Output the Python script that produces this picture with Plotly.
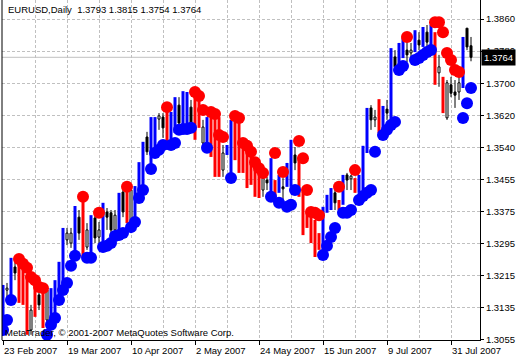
import plotly.graph_objects as go

# ---------------- data ----------------
x_tick_idx = [0, 16, 32, 48, 64, 80, 96, 112]
x_tick_text = ["23 Feb 2007", "19 Mar 2007", "10 Apr 2007", "2 May 2007",
               "24 May 2007", "15 Jun 2007", "9 Jul 2007", "31 Jul 2007"]
y_tick_vals = [1.3055, 1.31355, 1.3216, 1.32965, 1.3377, 1.34575,
               1.3538, 1.36185, 1.3699, 1.37795, 1.3860]
y_tick_text = ["1.3055", "1.3135", "1.3215", "1.3295", "1.3375", "1.3455",
               "1.3540", "1.3620", "1.3700", "1.3780", "1.3860"]

# candles visible between the indicator bars (bar index, O, H, L, C)
candle_idx = [1, 3, 7, 9, 11, 16, 17, 19, 21, 23, 24, 26, 27, 28, 30, 32, 36, 39, 40,
              44, 47, 50, 55, 65, 66, 70, 73, 83, 86, 87, 92, 93, 96, 98, 101, 102,
              104, 106, 109, 111, 112, 113, 114, 116, 117]
c_open = [1.3180, 1.3238, 1.3080, 1.3168, 1.3105, 1.3306, 1.3298, 1.3363, 1.3288, 1.3361,
          1.3313, 1.3376, 1.3374, 1.3331, 1.3426, 1.3351, 1.3564, 1.3609, 1.3614,
          1.3644, 1.3639, 1.3549, 1.3481, 1.3431, 1.3456, 1.3439, 1.3519, 1.3424, 1.3469,
          1.3459, 1.3637, 1.3607, 1.3634, 1.3765, 1.3782, 1.3775,
          1.3807, 1.3827, 1.3725, 1.3612, 1.3695, 1.3677, 1.3677, 1.3837, 1.3793]
c_high = [1.3198, 1.3251, 1.3143, 1.3185, 1.3193, 1.3336, 1.3336, 1.3381, 1.3348, 1.3381,
          1.3351, 1.3386, 1.3381, 1.3381, 1.3439, 1.3439, 1.3577, 1.3624, 1.3624,
          1.3664, 1.3657, 1.3607, 1.3544, 1.3476, 1.3464, 1.3461, 1.3539, 1.3436, 1.3474,
          1.3469, 1.3644, 1.3632, 1.3657, 1.3782, 1.3807, 1.3800,
          1.3827, 1.3845, 1.3770, 1.3707, 1.3715, 1.3707, 1.3720, 1.3837, 1.3815]
c_low = [1.3155, 1.3205, 1.3068, 1.3130, 1.3093, 1.3293, 1.3286, 1.3306, 1.3281, 1.3298,
         1.3293, 1.3331, 1.3313, 1.3318, 1.3363, 1.3338, 1.3519, 1.3582, 1.3562,
         1.3587, 1.3589, 1.3539, 1.3464, 1.3414, 1.3431, 1.3401, 1.3481, 1.3381, 1.3431,
         1.3431, 1.3582, 1.3589, 1.3607, 1.3732, 1.3752, 1.3757,
         1.3782, 1.3790, 1.3690, 1.3607, 1.3664, 1.3637, 1.3657, 1.3782, 1.3754]
c_close = [1.3185, 1.3223, 1.3130, 1.3143, 1.3180, 1.3323, 1.3323, 1.3323, 1.3331, 1.3311,
           1.3331, 1.3363, 1.3331, 1.3368, 1.3376, 1.3431, 1.3527, 1.3617, 1.3587,
           1.3599, 1.3599, 1.3589, 1.3524, 1.3461, 1.3449, 1.3434, 1.3499, 1.3399, 1.3456,
           1.3466, 1.3607, 1.3614, 1.3624, 1.3740, 1.3770, 1.3782,
           1.3795, 1.3802, 1.3740, 1.3700, 1.3674, 1.3669, 1.3700, 1.3790, 1.3764]

# indicator histogram bars
blue_bar_idx = [0, 2, 12, 13, 14, 15, 18, 22, 25, 29, 33, 34, 35, 37, 38, 42, 43, 45, 46,
                51, 56, 57, 67, 69, 71, 72, 80, 81, 82, 85, 89, 90, 91, 95, 97, 99, 100,
                103, 105, 107, 115]
blue_bar_top = [1.3193, 1.3261, 1.3185, 1.3205, 1.3251, 1.3336, 1.3391, 1.3368, 1.3399,
                1.3424, 1.3441, 1.3501, 1.3552, 1.3614, 1.3614, 1.3627, 1.3664, 1.3679,
                1.3677, 1.3614, 1.3544, 1.3607, 1.3511, 1.3469, 1.3499, 1.3557, 1.3389,
                1.3419, 1.3436, 1.3469, 1.3469, 1.3542, 1.3637, 1.3642, 1.3787, 1.3800,
                1.3812, 1.3832, 1.3840, 1.3845, 1.3815]
blue_bar_bot = [1.3068, 1.3155, 1.3100, 1.3113, 1.3155, 1.3180, 1.3268, 1.3263, 1.3293,
                1.3318, 1.3351, 1.3406, 1.3431, 1.3481, 1.3519, 1.3539, 1.3574, 1.3582,
                1.3587, 1.3544, 1.3519, 1.3469, 1.3424, 1.3424, 1.3439, 1.3439, 1.3273,
                1.3374, 1.3381, 1.3394, 1.3424, 1.3431, 1.3524, 1.3574, 1.3589, 1.3745,
                1.3762, 1.3777, 1.3790, 1.3782, 1.3687]

red_bar_idx = [4, 5, 6, 8, 10, 20, 31, 41, 48, 49, 52, 53, 54, 58, 59, 60, 61, 62, 63, 64,
               68, 74, 75, 76, 77, 78, 79, 84, 88, 94, 108, 110]
red_bar_top = [1.3261, 1.3236, 1.3218, 1.3193, 1.3180, 1.3406, 1.3439, 1.3639, 1.3677,
               1.3669, 1.3627, 1.3619, 1.3614, 1.3619, 1.3607, 1.3544, 1.3532, 1.3519,
               1.3499, 1.3481, 1.3456, 1.3514, 1.3426, 1.3374, 1.3363, 1.3356, 1.3323,
               1.3406, 1.3461, 1.3659, 1.3827, 1.3715]
red_bar_bot = [1.3148, 1.3143, 1.3068, 1.3113, 1.3085, 1.3263, 1.3348, 1.3552, 1.3557,
               1.3587, 1.3514, 1.3464, 1.3464, 1.3506, 1.3474, 1.3474, 1.3436, 1.3444,
               1.3414, 1.3411, 1.3414, 1.3414, 1.3318, 1.3336, 1.3298, 1.3263, 1.3281,
               1.3381, 1.3424, 1.3574, 1.3695, 1.3624]

# indicator dots
blue_dot_idx = [0, 1, 2, 11, 12, 13, 14, 15, 16, 17, 18, 21, 22, 25, 26, 27, 28, 29, 30,
                32, 33, 34, 35, 37, 38, 39, 40, 42, 43, 44, 45, 46, 47, 51, 57, 67, 69,
                71, 72, 73, 80, 81, 82, 83, 85, 86, 87, 89, 90, 91, 92, 93, 95, 96, 97,
                98, 99, 100, 103, 104, 105, 106, 107, 115, 116, 117]
blue_dot_val = [1.3080, 1.3105, 1.3155, 1.3068, 1.3093, 1.3110, 1.3155, 1.3180, 1.3198,
                1.3241, 1.3266, 1.3261, 1.3261, 1.3288, 1.3291, 1.3298, 1.3316, 1.3318,
                1.3323, 1.3338, 1.3351, 1.3411, 1.3431, 1.3484, 1.3524, 1.3532, 1.3544,
                1.3544, 1.3549, 1.3582, 1.3584, 1.3584, 1.3587, 1.3537, 1.3461, 1.3414,
                1.3399, 1.3389, 1.3394, 1.3431, 1.3268, 1.3291, 1.3313, 1.3336, 1.3374,
                1.3374, 1.3381, 1.3406, 1.3416, 1.3424, 1.3431, 1.3527, 1.3569, 1.3582,
                1.3594, 1.3602, 1.3732, 1.3742, 1.3757, 1.3762, 1.3770, 1.3777, 1.3782,
                1.3612, 1.3649, 1.3687]

red_dot_idx = [4, 5, 6, 7, 8, 9, 10, 20, 24, 31, 41, 48, 49, 50, 52, 53, 54, 55, 58, 59,
               60, 61, 62, 63, 64, 65, 68, 70, 74, 75, 76, 77, 78, 79, 84, 88, 101, 108,
               109, 110, 111, 112, 113, 114]
red_dot_val = [1.3258, 1.3246, 1.3236, 1.3213, 1.3205, 1.3188, 1.3185, 1.3414, 1.3374,
               1.3439, 1.3639, 1.3677, 1.3667, 1.3632, 1.3627, 1.3622, 1.3569, 1.3564,
               1.3617, 1.3612, 1.3549, 1.3542, 1.3527, 1.3501, 1.3486, 1.3474, 1.3524,
               1.3476, 1.3554, 1.3511, 1.3431, 1.3376, 1.3374, 1.3368, 1.3439, 1.3481,
               1.3815, 1.3852, 1.3852, 1.3827, 1.3775, 1.3757, 1.3732, 1.3727]

symbol = "EURUSD,Daily"
copyright_text = "MetaTrader, \u00a9 2001-2007 MetaQuotes Software Corp."

# ---------------- styles ----------------
BLUE = "#0000FF"
RED = "#FF0000"
GRID = "#C0C0C0"
FONT = "Liberation Sans"
DOT = 12

fig = go.Figure()

# candle wicks (split around the body so white bodies stay clean)
wx, wy = [], []
for i, o, h, l, c in zip(candle_idx, c_open, c_high, c_low, c_close):
    top, bot = max(o, c), min(o, c)
    wx += [i, i, None, i, i, None]
    wy += [h, top, None, bot, l, None]
fig.add_trace(go.Scatter(x=wx, y=wy, mode="lines", line=dict(color="black", width=1),
                         hoverinfo="skip"))

# candle bodies
up = [k for k in range(len(candle_idx)) if c_close[k] >= c_open[k]]
dn = [k for k in range(len(candle_idx)) if c_close[k] < c_open[k]]
fig.add_trace(go.Bar(x=[candle_idx[k] for k in up],
                     base=[c_open[k] for k in up],
                     y=[max(c_close[k] - c_open[k], 0.00005) for k in up],
                     width=0.5, marker=dict(color="white", line=dict(color="black", width=1))))
fig.add_trace(go.Bar(x=[candle_idx[k] for k in dn],
                     base=[c_close[k] for k in dn],
                     y=[c_open[k] - c_close[k] for k in dn],
                     width=0.5, marker=dict(color="black", line=dict(color="black", width=1))))

# indicator histogram
fig.add_trace(go.Bar(x=blue_bar_idx, base=blue_bar_bot,
                     y=[t - b for t, b in zip(blue_bar_top, blue_bar_bot)],
                     width=0.75, marker=dict(color=BLUE, line=dict(width=0))))
fig.add_trace(go.Bar(x=red_bar_idx, base=red_bar_bot,
                     y=[t - b for t, b in zip(red_bar_top, red_bar_bot)],
                     width=0.75, marker=dict(color=RED, line=dict(width=0))))

# indicator dots
fig.add_trace(go.Scatter(x=blue_dot_idx, y=blue_dot_val, mode="markers",
                         marker=dict(color=BLUE, size=DOT, line=dict(width=0))))
fig.add_trace(go.Scatter(x=red_dot_idx, y=red_dot_val, mode="markers",
                         marker=dict(color=RED, size=DOT, line=dict(width=0))))

last_o, last_h, last_l, last_c = c_open[-1], c_high[-1], c_low[-1], c_close[-1]

annotations = [
    dict(text=f"{symbol}  {last_o:.4f} {last_h:.4f} {last_l:.4f} {last_c:.4f}",
         x=0, y=1, xref="paper", yref="paper", xanchor="left", yanchor="top",
         xshift=4, yshift=-2, showarrow=False, font=dict(size=9.5)),
    dict(text=copyright_text, x=0, y=0, xref="paper", yref="paper",
         xanchor="left", yanchor="bottom", xshift=1, yshift=0, showarrow=False,
         font=dict(size=9.5)),
    dict(text=f"{last_c:.4f}", x=1, y=last_c, xref="paper", yref="y",
         xanchor="left", yanchor="middle", xshift=1, showarrow=False,
         bgcolor="black", borderpad=2, font=dict(color="white", size=9.5)),
]
for idx, lab in zip(x_tick_idx, x_tick_text):
    annotations.append(dict(text=lab, x=idx, y=0, xref="x", yref="paper",
                            xanchor="left", yanchor="top", xshift=-1, yshift=-3,
                            showarrow=False, font=dict(size=9.5)))

fig.update_layout(
    width=520, height=360,
    margin=dict(l=2, r=40, t=0, b=20),
    paper_bgcolor="white", plot_bgcolor="white",
    showlegend=False, barmode="overlay",
    font=dict(family=FONT, size=9.5, color="black"),
    xaxis=dict(range=[-0.25, 119.25], tickmode="array", tickvals=x_tick_idx,
               showticklabels=False, ticks="outside", ticklen=4, tickcolor="black",
               showline=True, linecolor="black", linewidth=1,
               showgrid=True, gridcolor=GRID, griddash="3px,2px", gridwidth=1,
               zeroline=False,
               minor=dict(tickmode="linear", tick0=0, dtick=8, showgrid=True,
                          gridcolor=GRID, griddash="3px,2px", gridwidth=1, ticks="")),
    yaxis=dict(side="right", range=[1.30549, 1.39077], tickmode="array",
               tickvals=y_tick_vals, ticktext=y_tick_text,
               ticks="outside", ticklen=3, tickcolor="black",
               showline=True, linecolor="black", linewidth=1,
               showgrid=True, gridcolor=GRID, griddash="3px,2px", gridwidth=1,
               zeroline=False),
    annotations=annotations,
    shapes=[
        dict(type="line", xref="paper", yref="y", x0=0, x1=1, y0=last_c, y1=last_c,
             line=dict(color=GRID, width=1), layer="below"),
        dict(type="line", xref="paper", yref="paper", x0=0, x1=0, y0=0, y1=1,
             line=dict(color="black", width=1)),
    ],
)

fig.write_html("out.html", config={"displayModeBar": False},
               post_script="document.body.style.margin='0';document.body.style.padding='0';")
